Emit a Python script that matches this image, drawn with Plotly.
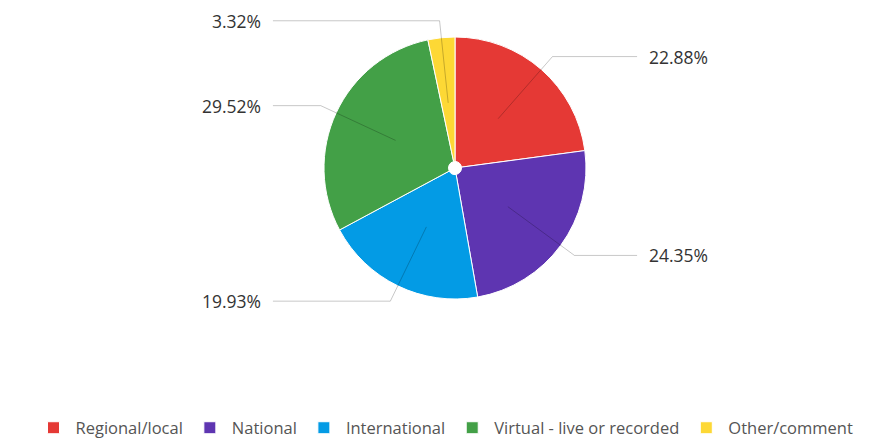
import math
import plotly.graph_objects as go

categories = ["Regional/local", "National", "International", "Virtual - live or recorded", "Other/comment"]
values = [22.88, 24.35, 19.93, 29.52, 3.32]
colors = ["#E53935", "#5E35B1", "#039BE5", "#43A047", "#FDD835"]

W, H = 882, 441
cx, cy, R = 455, 168, 131

fig = go.Figure(go.Pie(
    labels=categories,
    values=values,
    sort=False,
    direction="clockwise",
    rotation=0,
    hole=0.05,
    textinfo="none",
    hoverinfo="label+percent",
    marker=dict(colors=colors, line=dict(color="white", width=1)),
    domain=dict(x=[(cx - R) / W, (cx + R) / W], y=[1 - (cy + R) / H, 1 - (cy - R) / H]),
))

def px(x):
    return x / W

def py(y):
    return 1 - y / H

total = sum(values)
cum = 0.0
shapes = []
annotations = []
for v in values:
    mid = (cum + v / 2) / total
    cum += v
    ang = 2 * math.pi * mid
    sx, sy = math.sin(ang), -math.cos(ang)
    x0, y0 = cx + sx * 0.5 * R, cy + sy * 0.5 * R
    x1, y1 = cx + sx * 1.13 * R, cy + sy * 1.13 * R
    right = sx >= 0
    x2 = cx + (1.39 * R if right else -1.39 * R)
    line = dict(color="rgba(0,0,0,0.22)", width=1)
    shapes.append(dict(type="line", xref="paper", yref="paper",
                       x0=px(x0), y0=py(y0), x1=px(x1), y1=py(y1), line=line))
    shapes.append(dict(type="line", xref="paper", yref="paper",
                       x0=px(x1), y0=py(y1), x1=px(x2), y1=py(y1), line=line))
    annotations.append(dict(
        xref="paper", yref="paper",
        x=px(x2 + (10 if right else -10)), y=py(y1),
        xanchor="left" if right else "right", yanchor="middle",
        text=f"{v:.2f}%", showarrow=False,
        font=dict(family="Open Sans", size=17.5, color="#333333"),
    ))

fig.update_layout(
    width=W, height=H,
    margin=dict(l=0, r=0, t=0, b=0, autoexpand=False),
    paper_bgcolor="white",
    plot_bgcolor="white",
    shapes=shapes,
    annotations=annotations,
    showlegend=True,
    legend=dict(
        orientation="h",
        x=445 / W, xanchor="center",
        y=(H - 428) / H, yanchor="middle",
        itemwidth=34,
        font=dict(family="Open Sans", size=16.5, color="#555555"),
        traceorder="normal",
    ),
)

fig.write_html("out.html")
